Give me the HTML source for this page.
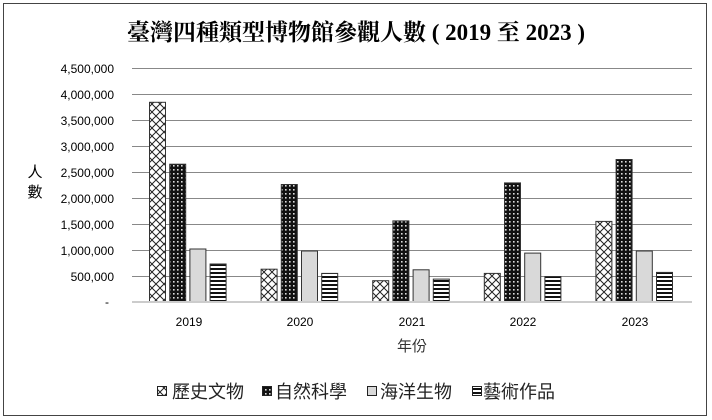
<!DOCTYPE html>
<html><head><meta charset="utf-8"><style>body{margin:0;background:#fff}svg{display:block}</style></head>
<body>
<svg width="712" height="420" xmlns="http://www.w3.org/2000/svg" font-family="'Liberation Sans','Noto Sans CJK TC',sans-serif">
<defs>
<pattern id="cross" width="8" height="8" patternUnits="userSpaceOnUse">
<rect width="8" height="8" fill="#fff"/><path d="M0,0L8,8M8,0L0,8" stroke="#222" stroke-width="1"/>
</pattern>
<pattern id="dots" width="4" height="4" patternUnits="userSpaceOnUse">
<rect width="4" height="4" fill="#111"/><rect x="1" y="1" width="1.6" height="1.6" fill="#ddd"/>
</pattern>
<pattern id="stripe" width="4" height="4" patternUnits="userSpaceOnUse">
<rect width="4" height="4" fill="#fff"/><rect y="0" width="4" height="2" fill="#111"/>
</pattern>
</defs>
<rect x="3.5" y="3.5" width="703" height="412" fill="#fff" stroke="#444" stroke-width="1"/>
<text x="356" y="40" text-anchor="middle" font-family="'Liberation Serif','Noto Serif CJK TC',serif" font-weight="bold" font-size="23" fill="#000">臺灣四種類型博物館參觀人數 ( 2019 至 2023 )</text>
<g stroke="#888" stroke-width="1">
<line x1="132" y1="68.5" x2="692" y2="68.5"/><line x1="132" y1="94.5" x2="692" y2="94.5"/>
<line x1="132" y1="120.5" x2="692" y2="120.5"/><line x1="132" y1="146.5" x2="692" y2="146.5"/>
<line x1="132" y1="172.5" x2="692" y2="172.5"/><line x1="132" y1="198.5" x2="692" y2="198.5"/>
<line x1="132" y1="224.5" x2="692" y2="224.5"/><line x1="132" y1="250.5" x2="692" y2="250.5"/>
<line x1="132" y1="276.5" x2="692" y2="276.5"/>
</g>
<g font-size="12" fill="#000" text-anchor="end">
<text x="114" y="73">4,500,000</text><text x="114" y="99">4,000,000</text><text x="114" y="125">3,500,000</text>
<text x="114" y="151">3,000,000</text><text x="114" y="177">2,500,000</text><text x="114" y="203">2,000,000</text>
<text x="114" y="229">1,500,000</text><text x="114" y="255">1,000,000</text><text x="114" y="281">500,000</text>
<text x="109" y="306">-</text>
</g>
<text x="35" y="177" font-size="15" text-anchor="middle">人</text>
<text x="35" y="197" font-size="15" text-anchor="middle">數</text>
<g stroke="#333" stroke-width="1">
<rect x="149.5" y="102.3" width="16" height="199.7" fill="url(#cross)"/>
<rect x="169.7" y="164.2" width="16" height="137.8" fill="url(#dots)"/>
<rect x="189.9" y="249" width="16" height="53" fill="#d9d9d9"/>
<rect x="210.1" y="264" width="16" height="38" fill="url(#stripe)"/>
<rect x="261.1" y="269.2" width="16" height="32.8" fill="url(#cross)"/>
<rect x="281.3" y="184.5" width="16" height="117.5" fill="url(#dots)"/>
<rect x="301.5" y="251" width="16" height="51" fill="#d9d9d9"/>
<rect x="321.7" y="273.4" width="16" height="28.6" fill="url(#stripe)"/>
<rect x="372.7" y="280.7" width="16" height="21.3" fill="url(#cross)"/>
<rect x="392.9" y="220.9" width="16" height="81.1" fill="url(#dots)"/>
<rect x="413.1" y="269.8" width="16" height="32.2" fill="#d9d9d9"/>
<rect x="433.3" y="279.1" width="16" height="22.9" fill="url(#stripe)"/>
<rect x="484.3" y="273.4" width="16" height="28.6" fill="url(#cross)"/>
<rect x="504.5" y="182.9" width="16" height="119.1" fill="url(#dots)"/>
<rect x="524.7" y="253.1" width="16" height="48.9" fill="#d9d9d9"/>
<rect x="544.9" y="276.5" width="16" height="25.5" fill="url(#stripe)"/>
<rect x="595.9" y="221.4" width="16" height="80.6" fill="url(#cross)"/>
<rect x="616.1" y="159.5" width="16" height="142.5" fill="url(#dots)"/>
<rect x="636.3" y="251" width="16" height="51" fill="#d9d9d9"/>
<rect x="656.5" y="272.4" width="16" height="29.6" fill="url(#stripe)"/>
</g>
<line x1="132" y1="302" x2="692" y2="302" stroke="#ccc" stroke-width="2"/>
<g font-size="12" text-anchor="middle">
<text x="189" y="326">2019</text><text x="300" y="326">2020</text><text x="412" y="326">2021</text><text x="523" y="326">2022</text><text x="635" y="326">2023</text>
</g>
<text x="412" y="351" font-size="15" text-anchor="middle" fill="#333">年份</text>
<g font-size="18" fill="#222">
<rect x="157.5" y="386.5" width="9" height="9" fill="url(#cross)" stroke="#222"/><text x="172" y="398">歷史文物</text>
<rect x="262.5" y="386.5" width="9" height="9" fill="url(#dots)" stroke="#222"/><text x="275" y="398">自然科學</text>
<rect x="367.5" y="386.5" width="9" height="9" fill="#d9d9d9" stroke="#222"/><text x="380" y="398">海洋生物</text>
<rect x="472.5" y="386.5" width="9" height="9" fill="url(#stripe)" stroke="#222"/><text x="483" y="398">藝術作品</text>
</g>
</svg>
</body></html>
